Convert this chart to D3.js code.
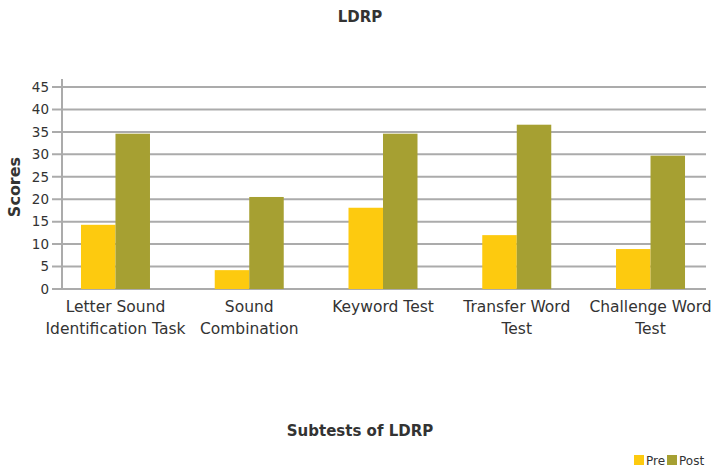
<!DOCTYPE html>
<html>
<head>
<meta charset="utf-8">
<script src="https://cdn.jsdelivr.net/npm/d3@7/dist/d3.min.js"></script>
<style>
  html, body { margin: 0; padding: 0; background: #fff; }
  svg { display: block; }
  text { font-family: "DejaVu Sans", sans-serif; fill: #333; }
</style>
</head>
<body>
<svg id="chart" width="718" height="469"></svg>
<script>
// Subtests of the LDRP and their pre/post scores
const categories = [
  "Letter Sound Identification Task",
  "Sound Combination",
  "Keyword Test",
  "Transfer Word Test",
  "Challenge Word Test"
];
const categoryLines = [
  ["Letter Sound", "Identification Task"],
  ["Sound", "Combination"],
  ["Keyword Test"],
  ["Transfer Word", "Test"],
  ["Challenge Word", "Test"]
];
const seriesNames = ["Pre", "Post"];
const preScores = [14.3, 4.2, 18.1, 12.0, 8.9];
const postScores = [34.6, 20.5, 34.6, 36.6, 29.7];
const yTicks = [0, 5, 10, 15, 20, 25, 30, 35, 40, 45];

const colors = { Pre: "#fdca0f", Post: "#a6a032" };

const svg = d3.select("#chart");
const plotLeft = 62, plotRight = 706, plotTop = 87, plotBottom = 289;

const x = d3.scaleBand().domain(categories).range([48.6, 717.4]).padding(0);
const barW = 34.5;
const x1 = d3.scaleBand().domain(seriesNames)
  .range([0, barW * 2]).padding(0);
const y = d3.scaleLinear().domain([0, 45]).range([plotBottom, plotTop]);

// horizontal gridlines with short outside ticks
const grid = svg.append("g");
grid.selectAll("line").data(yTicks).join("line")
  .attr("x1", plotLeft - 10).attr("x2", plotRight)
  .attr("y1", d => y(d)).attr("y2", d => y(d))
  .attr("stroke", "#ababab").attr("stroke-width", 2);

// y axis labels
const yAxis = d3.axisLeft(y).tickValues(yTicks).tickSize(0).tickPadding(13);
const yg = svg.append("g").attr("transform", `translate(${plotLeft},0)`).call(yAxis);
yg.select(".domain").remove();
yg.selectAll("text").style("font-size", "13.5px").style("fill", "#333")
  .style("font-family", "DejaVu Sans, sans-serif");

// vertical axis line
svg.append("line")
  .attr("x1", plotLeft).attr("x2", plotLeft)
  .attr("y1", plotTop - 8).attr("y2", plotBottom + 1)
  .attr("stroke", "#ababab").attr("stroke-width", 2);

// bars
const data = categories.map((c, i) => ({ cat: c, values: [
  { key: "Pre", value: preScores[i] },
  { key: "Post", value: postScores[i] }
]}));
const groups = svg.append("g").selectAll("g").data(data).join("g")
  .attr("transform", d => `translate(${x(d.cat) + x.bandwidth() / 2 - barW},0)`);
groups.selectAll("rect").data(d => d.values).join("rect")
  .attr("x", d => x1(d.key))
  .attr("width", x1.bandwidth())
  .attr("y", d => y(d.value))
  .attr("height", d => y(0) - y(d.value))
  .attr("fill", d => colors[d.key]);

// category labels
const lab = svg.append("g").selectAll("text").data(categories).join("text")
  .attr("x", d => x(d) + x.bandwidth() / 2)
  .attr("y", 312)
  .attr("text-anchor", "middle")
  .style("font-size", "15.5px");
lab.selectAll("tspan").data((d, i) => categoryLines[i]).join("tspan")
  .attr("x", function() { return this.parentNode.getAttribute("x"); })
  .attr("dy", (d, i) => i === 0 ? 0 : 22)
  .text(d => d);

// titles
svg.append("text").attr("x", 360).attr("y", 22).attr("text-anchor", "middle")
  .style("font-size", "15px").style("font-weight", "bold").text("LDRP");
svg.append("text").attr("transform", "translate(20,187) rotate(-90)")
  .attr("text-anchor", "middle")
  .style("font-size", "16px").style("font-weight", "bold").text("Scores");
svg.append("text").attr("x", 360).attr("y", 436).attr("text-anchor", "middle")
  .style("font-size", "15px").style("font-weight", "bold").text("Subtests of LDRP");

// legend
const legend = svg.append("g").attr("transform", "translate(634,455)");
const legendX = [0, 33];
seriesNames.forEach((s, i) => {
  const g = legend.append("g").attr("transform", `translate(${legendX[i]},0)`);
  g.append("rect").attr("width", 10).attr("height", 10).attr("fill", colors[s]);
  g.append("text").attr("x", 12).attr("y", 10).style("font-size", "12px").text(s);
});
</script>
</body>
</html>
